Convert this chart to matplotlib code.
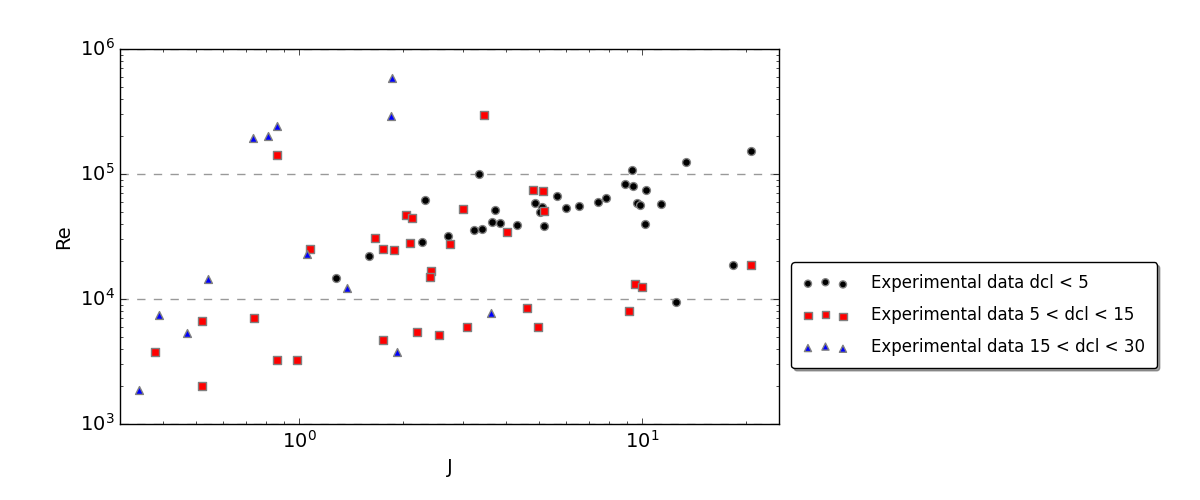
import matplotlib
matplotlib.use("Agg")
import matplotlib.pyplot as plt
import numpy as np

plt.style.use('classic')

# dcl < 5 (black circles)
j_small = [1.28, 1.60, 2.28, 2.33, 2.71, 3.34, 3.23, 3.40, 3.65, 3.73, 3.84, 4.30,
           4.87, 5.09, 5.04, 5.18, 5.65, 5.98, 6.55, 7.43, 7.84, 8.91, 9.31, 9.40,
           9.63, 9.85, 10.23, 10.2, 11.31, 13.4, 12.5, 18.4, 20.8]
re_small = [14700, 22000, 28600, 61600, 31900, 100000, 35600, 36300, 41100, 51500,
            40300, 38900, 58900, 54200, 49900, 38600, 67000, 53500, 55800, 60000,
            64600, 83200, 108200, 80600, 58600, 56200, 74500, 39800, 57900, 124000,
            9460, 18700, 152000]

# 5 < dcl < 15 (red squares)
j_mid = [0.38, 0.52, 0.52, 0.74, 0.861, 0.861, 0.983, 1.072, 1.666, 1.75, 1.75,
         1.892, 2.05, 2.098, 2.127, 2.208, 2.42, 2.41, 2.55, 2.75, 2.995, 3.083,
         3.46, 4.03, 4.60, 4.80, 4.955, 5.13, 5.17, 9.13, 9.54, 9.98, 20.8]
re_mid = [3790, 6670, 2014, 7080, 142000, 3270, 3270, 25100, 30600, 25000, 4700,
          24600, 46700, 27900, 44300, 5470, 16800, 15000, 5180, 27700, 52200, 6000,
          295000, 34500, 8520, 74500, 6000, 73100, 50900, 8020, 13200, 12540, 18600]

# 15 < dcl < 30 (blue triangles)
j_large = [0.340, 0.391, 0.471, 0.541, 0.731, 0.812, 0.863, 1.053, 1.374, 1.847,
           1.867, 1.927, 3.62]
re_large = [1860, 7410, 5380, 14450, 195000, 201000, 243000, 22800, 12250, 291000,
            583000, 3770, 7770]

labels = ['Experimental data dcl < 5',
          'Experimental data 5 < dcl < 15',
          'Experimental data 15 < dcl < 30']

fig = plt.figure(figsize=(12, 5), dpi=100, facecolor='white')
ax = fig.add_axes([0.1, 0.152, 0.549, 0.75])

kw = dict(s=32, edgecolors='gray', linewidths=1.0, zorder=3)
ax.scatter(j_small, re_small, c='black', marker='o', label=labels[0], **kw)
ax.scatter(j_mid, re_mid, c='red', marker='s', label=labels[1], **kw)
ax.scatter(j_large, re_large, c='blue', marker='^', label=labels[2], **kw)

ax.set_xscale('log')
ax.set_yscale('log')
ax.set_xlim(0.3, 25)
ax.set_ylim(1e3, 1e6)
ax.set_axisbelow(True)
ax.yaxis.grid(True, which='major', linestyle='--', color='#999999', linewidth=1)
ax.xaxis.grid(False)
ax.set_xlabel('J', fontsize=14)
ax.set_ylabel('Re', fontsize=14)
ax.tick_params(labelsize=14)

leg = ax.legend(loc='center left', bbox_to_anchor=(1.0, 0.29), scatterpoints=3,
                fancybox=True, shadow=True, fontsize=12, markerscale=0.9,
                labelspacing=0.85, handlelength=2.7, handletextpad=1.4,
                borderpad=0.7, borderaxespad=0.75)

fig.savefig('out.png', dpi=100, facecolor='white')
